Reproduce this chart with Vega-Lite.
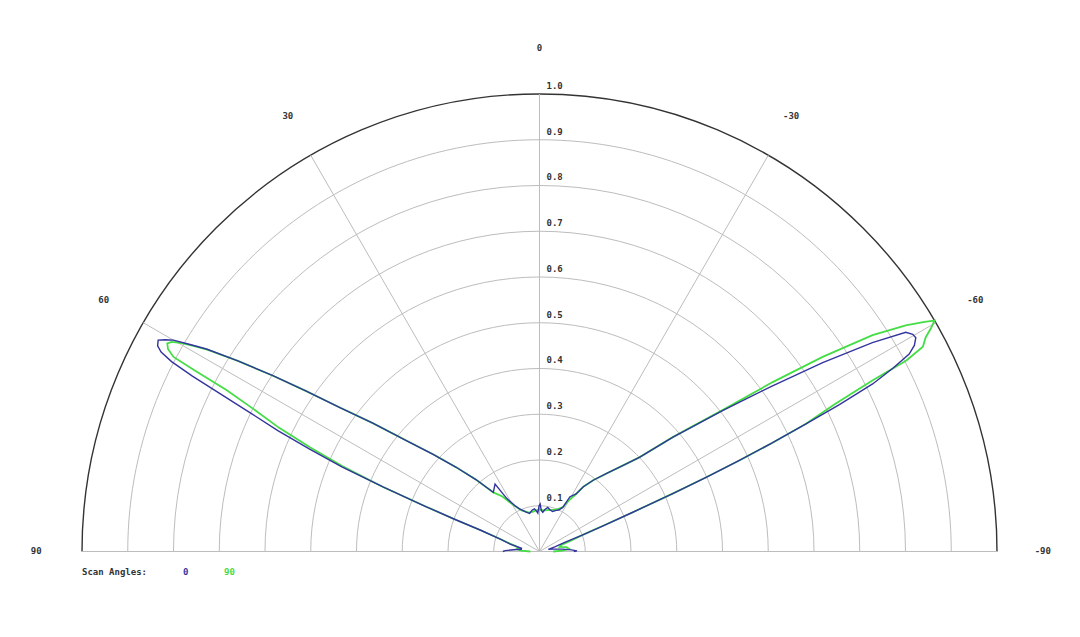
{
  "$schema": "https://vega.github.io/schema/vega-lite/v6.json",
  "width": 1080,
  "height": 637,
  "autosize": "none",
  "padding": 0,
  "background": "white",
  "config": {
    "font": "DejaVu Sans Mono",
    "view": {"stroke": null}
  },
  "datasets": {
    "rings": [
      {"r": 0.1}, {"r": 0.2}, {"r": 0.3}, {"r": 0.4}, {"r": 0.5},
      {"r": 0.6}, {"r": 0.7}, {"r": 0.8}, {"r": 0.9}, {"r": 1.0}
    ],
    "spokes": [
      {"angle": 90}, {"angle": 60}, {"angle": 30}, {"angle": 0},
      {"angle": -30}, {"angle": -60}, {"angle": -90}
    ],
    "pattern": [
      {"scan": "0", "theta": 90, "r": 0.08},
      {"scan": "0", "theta": 88.5, "r": 0.075},
      {"scan": "0", "theta": 87, "r": 0.062},
      {"scan": "0", "theta": 85, "r": 0.05},
      {"scan": "0", "theta": 83, "r": 0.04},
      {"scan": "0", "theta": 79.8, "r": 0.04},
      {"scan": "0", "theta": 75.7, "r": 0.066},
      {"scan": "0", "theta": 72.4, "r": 0.09},
      {"scan": "0", "theta": 70.1, "r": 0.138},
      {"scan": "0", "theta": 69.2, "r": 0.2},
      {"scan": "0", "theta": 68.4, "r": 0.27},
      {"scan": "0", "theta": 67.6, "r": 0.37},
      {"scan": "0", "theta": 66.8, "r": 0.47},
      {"scan": "0", "theta": 66.0, "r": 0.55},
      {"scan": "0", "theta": 65.2, "r": 0.63},
      {"scan": "0", "theta": 64.4, "r": 0.7},
      {"scan": "0", "theta": 63.7, "r": 0.78},
      {"scan": "0", "theta": 63.2, "r": 0.85},
      {"scan": "0", "theta": 62.7, "r": 0.905},
      {"scan": "0", "theta": 62.2, "r": 0.935},
      {"scan": "0", "theta": 61.7, "r": 0.948},
      {"scan": "0", "theta": 61.0, "r": 0.953},
      {"scan": "0", "theta": 60.5, "r": 0.94},
      {"scan": "0", "theta": 60.0, "r": 0.924},
      {"scan": "0", "theta": 59.4, "r": 0.89},
      {"scan": "0", "theta": 58.7, "r": 0.852},
      {"scan": "0", "theta": 57.7, "r": 0.78},
      {"scan": "0", "theta": 56.6, "r": 0.698},
      {"scan": "0", "theta": 55.5, "r": 0.62},
      {"scan": "0", "theta": 54.2, "r": 0.538},
      {"scan": "0", "theta": 52.4, "r": 0.46},
      {"scan": "0", "theta": 50.2, "r": 0.379},
      {"scan": "0", "theta": 47.6, "r": 0.315},
      {"scan": "0", "theta": 44.7, "r": 0.259},
      {"scan": "0", "theta": 41.5, "r": 0.21},
      {"scan": "0", "theta": 38.0, "r": 0.164},
      {"scan": "0", "theta": 33.4, "r": 0.1765},
      {"scan": "0", "theta": 31.7, "r": 0.1365},
      {"scan": "0", "theta": 28.5, "r": 0.115},
      {"scan": "0", "theta": 25.1, "r": 0.103},
      {"scan": "0", "theta": 22.2, "r": 0.097},
      {"scan": "0", "theta": 18.7, "r": 0.091},
      {"scan": "0", "theta": 14.6, "r": 0.086},
      {"scan": "0", "theta": 10.0, "r": 0.092},
      {"scan": "0", "theta": 6.7, "r": 0.094},
      {"scan": "0", "theta": 4.0, "r": 0.088},
      {"scan": "0", "theta": 2.5, "r": 0.084},
      {"scan": "0", "theta": 0.5, "r": 0.1},
      {"scan": "0", "theta": -0.8, "r": 0.104},
      {"scan": "0", "theta": -2.5, "r": 0.09},
      {"scan": "0", "theta": -4.8, "r": 0.086},
      {"scan": "0", "theta": -7.0, "r": 0.092},
      {"scan": "0", "theta": -10.6, "r": 0.098},
      {"scan": "0", "theta": -14.0, "r": 0.094},
      {"scan": "0", "theta": -18.0, "r": 0.092},
      {"scan": "0", "theta": -22.2, "r": 0.097},
      {"scan": "0", "theta": -25.0, "r": 0.1},
      {"scan": "0", "theta": -27.8, "r": 0.109},
      {"scan": "0", "theta": -29.1, "r": 0.137},
      {"scan": "0", "theta": -32.5, "r": 0.149},
      {"scan": "0", "theta": -34.1, "r": 0.171},
      {"scan": "0", "theta": -37.0, "r": 0.195},
      {"scan": "0", "theta": -40.7, "r": 0.225},
      {"scan": "0", "theta": -44.0, "r": 0.26},
      {"scan": "0", "theta": -46.7, "r": 0.3},
      {"scan": "0", "theta": -49.4, "r": 0.383},
      {"scan": "0", "theta": -52.4, "r": 0.505},
      {"scan": "0", "theta": -54.6, "r": 0.625},
      {"scan": "0", "theta": -56.3, "r": 0.744},
      {"scan": "0", "theta": -57.9, "r": 0.859},
      {"scan": "0", "theta": -59.1, "r": 0.933},
      {"scan": "0", "theta": -59.8, "r": 0.944},
      {"scan": "0", "theta": -60.4, "r": 0.946},
      {"scan": "0", "theta": -61.2, "r": 0.935},
      {"scan": "0", "theta": -61.9, "r": 0.916},
      {"scan": "0", "theta": -62.6, "r": 0.87},
      {"scan": "0", "theta": -63.3, "r": 0.815},
      {"scan": "0", "theta": -63.9, "r": 0.73},
      {"scan": "0", "theta": -64.4, "r": 0.646},
      {"scan": "0", "theta": -65.0, "r": 0.56},
      {"scan": "0", "theta": -65.5, "r": 0.48},
      {"scan": "0", "theta": -66.0, "r": 0.4},
      {"scan": "0", "theta": -66.5, "r": 0.32},
      {"scan": "0", "theta": -67.2, "r": 0.22},
      {"scan": "0", "theta": -68.0, "r": 0.15},
      {"scan": "0", "theta": -69.0, "r": 0.1},
      {"scan": "0", "theta": -70.0, "r": 0.06},
      {"scan": "0", "theta": -73.0, "r": 0.035},
      {"scan": "0", "theta": -76.0, "r": 0.02},
      {"scan": "0", "theta": -80.0, "r": 0.03},
      {"scan": "0", "theta": -84.0, "r": 0.05},
      {"scan": "0", "theta": -87.0, "r": 0.07},
      {"scan": "0", "theta": -89.0, "r": 0.082},
      {"scan": "0", "theta": -90.0, "r": 0.075},

      {"scan": "90", "theta": 90, "r": 0.02},
      {"scan": "90", "theta": 87, "r": 0.04},
      {"scan": "90", "theta": 84, "r": 0.05},
      {"scan": "90", "theta": 81, "r": 0.045},
      {"scan": "90", "theta": 77, "r": 0.055},
      {"scan": "90", "theta": 74, "r": 0.075},
      {"scan": "90", "theta": 72.4, "r": 0.09},
      {"scan": "90", "theta": 70.1, "r": 0.138},
      {"scan": "90", "theta": 69.2, "r": 0.2},
      {"scan": "90", "theta": 68.4, "r": 0.27},
      {"scan": "90", "theta": 67.6, "r": 0.37},
      {"scan": "90", "theta": 66.6, "r": 0.47},
      {"scan": "90", "theta": 65.6, "r": 0.55},
      {"scan": "90", "theta": 64.6, "r": 0.63},
      {"scan": "90", "theta": 63.5, "r": 0.7},
      {"scan": "90", "theta": 62.7, "r": 0.77},
      {"scan": "90", "theta": 62.3, "r": 0.85},
      {"scan": "90", "theta": 62.0, "r": 0.906},
      {"scan": "90", "theta": 61.4, "r": 0.925},
      {"scan": "90", "theta": 60.8, "r": 0.932},
      {"scan": "90", "theta": 60.3, "r": 0.925},
      {"scan": "90", "theta": 59.8, "r": 0.905},
      {"scan": "90", "theta": 59.3, "r": 0.88},
      {"scan": "90", "theta": 58.7, "r": 0.848},
      {"scan": "90", "theta": 57.7, "r": 0.78},
      {"scan": "90", "theta": 56.6, "r": 0.698},
      {"scan": "90", "theta": 55.5, "r": 0.62},
      {"scan": "90", "theta": 54.2, "r": 0.538},
      {"scan": "90", "theta": 52.4, "r": 0.46},
      {"scan": "90", "theta": 50.2, "r": 0.379},
      {"scan": "90", "theta": 47.6, "r": 0.315},
      {"scan": "90", "theta": 44.7, "r": 0.259},
      {"scan": "90", "theta": 41.5, "r": 0.21},
      {"scan": "90", "theta": 38.0, "r": 0.164},
      {"scan": "90", "theta": 34.0, "r": 0.145},
      {"scan": "90", "theta": 31.0, "r": 0.125},
      {"scan": "90", "theta": 27.0, "r": 0.108},
      {"scan": "90", "theta": 23.0, "r": 0.097},
      {"scan": "90", "theta": 19.0, "r": 0.092},
      {"scan": "90", "theta": 15.0, "r": 0.088},
      {"scan": "90", "theta": 10.0, "r": 0.088},
      {"scan": "90", "theta": 5.0, "r": 0.09},
      {"scan": "90", "theta": 0.0, "r": 0.092},
      {"scan": "90", "theta": -5.0, "r": 0.09},
      {"scan": "90", "theta": -10.0, "r": 0.092},
      {"scan": "90", "theta": -15.0, "r": 0.094},
      {"scan": "90", "theta": -20.0, "r": 0.097},
      {"scan": "90", "theta": -24.0, "r": 0.102},
      {"scan": "90", "theta": -27.8, "r": 0.11},
      {"scan": "90", "theta": -30.0, "r": 0.13},
      {"scan": "90", "theta": -32.5, "r": 0.149},
      {"scan": "90", "theta": -34.1, "r": 0.171},
      {"scan": "90", "theta": -37.0, "r": 0.195},
      {"scan": "90", "theta": -40.7, "r": 0.225},
      {"scan": "90", "theta": -44.0, "r": 0.26},
      {"scan": "90", "theta": -46.7, "r": 0.3},
      {"scan": "90", "theta": -49.4, "r": 0.385},
      {"scan": "90", "theta": -52.4, "r": 0.51},
      {"scan": "90", "theta": -54.0, "r": 0.63},
      {"scan": "90", "theta": -55.5, "r": 0.751},
      {"scan": "90", "theta": -57.0, "r": 0.868},
      {"scan": "90", "theta": -58.3, "r": 0.941},
      {"scan": "90", "theta": -59.2, "r": 0.98},
      {"scan": "90", "theta": -59.7, "r": 1.0},
      {"scan": "90", "theta": -60.3, "r": 0.985},
      {"scan": "90", "theta": -61.0, "r": 0.965},
      {"scan": "90", "theta": -61.9, "r": 0.95},
      {"scan": "90", "theta": -62.5, "r": 0.904},
      {"scan": "90", "theta": -62.8, "r": 0.819},
      {"scan": "90", "theta": -63.5, "r": 0.72},
      {"scan": "90", "theta": -64.4, "r": 0.646},
      {"scan": "90", "theta": -65.0, "r": 0.56},
      {"scan": "90", "theta": -65.5, "r": 0.48},
      {"scan": "90", "theta": -66.0, "r": 0.4},
      {"scan": "90", "theta": -66.5, "r": 0.32},
      {"scan": "90", "theta": -67.2, "r": 0.22},
      {"scan": "90", "theta": -68.0, "r": 0.15},
      {"scan": "90", "theta": -69.0, "r": 0.1},
      {"scan": "90", "theta": -71.0, "r": 0.07},
      {"scan": "90", "theta": -73.0, "r": 0.05},
      {"scan": "90", "theta": -77.0, "r": 0.045},
      {"scan": "90", "theta": -81.0, "r": 0.06},
      {"scan": "90", "theta": -85.0, "r": 0.065},
      {"scan": "90", "theta": -88.0, "r": 0.05},
      {"scan": "90", "theta": -90.0, "r": 0.03}
    ]
  },
  "layer": [
    {
      "data": {"name": "rings"},
      "transform": [
        {"calculate": "0", "as": "cx"},
        {"calculate": "0", "as": "cy"}
      ],
      "mark": {
        "type": "point",
        "shape": "M-1,0A1,1,0,0,1,1,0",
        "filled": false,
        "opacity": 1
      },
      "encoding": {
        "x": {
          "field": "cx",
          "type": "quantitative",
          "axis": null,
          "scale": {"domain": [-1.17923, 1.18142], "nice": false, "zero": false}
        },
        "y": {
          "field": "cy",
          "type": "quantitative",
          "axis": null,
          "scale": {"domain": [-0.18689, 1.20546], "nice": false, "zero": false}
        },
        "size": {
          "field": "r",
          "type": "quantitative",
          "legend": null,
          "scale": {"type": "pow", "exponent": 2, "domain": [0, 1], "range": [0, 837225]}
        },
        "stroke": {
          "condition": {"test": "datum.r >= 1", "value": "#333333"},
          "value": "#bdbdbd"
        },
        "strokeWidth": {
          "condition": {"test": "datum.r >= 1", "value": 1.4},
          "value": 1
        }
      }
    },
    {
      "data": {"name": "spokes"},
      "transform": [
        {"calculate": "0", "as": "cx"},
        {"calculate": "0", "as": "cy"},
        {"calculate": "-sin(datum.angle * PI / 180)", "as": "ex"},
        {"calculate": "cos(datum.angle * PI / 180)", "as": "ey"}
      ],
      "mark": {"type": "rule", "color": "#bdbdbd", "strokeWidth": 1},
      "encoding": {
        "x": {"field": "cx", "type": "quantitative", "axis": null},
        "y": {"field": "cy", "type": "quantitative", "axis": null},
        "x2": {"field": "ex"},
        "y2": {"field": "ey"}
      }
    },
    {
      "data": {"name": "spokes"},
      "transform": [
        {"calculate": "-1.1 * sin(datum.angle * PI / 180)", "as": "lx"},
        {"calculate": "1.1 * cos(datum.angle * PI / 180)", "as": "ly"},
        {"calculate": "'' + datum.angle", "as": "label"}
      ],
      "mark": {
        "type": "text",
        "fontSize": 9,
        "fontWeight": "bold",
        "color": "#333333",
        "align": "center",
        "baseline": "middle"
      },
      "encoding": {
        "x": {"field": "lx", "type": "quantitative", "axis": null},
        "y": {"field": "ly", "type": "quantitative", "axis": null},
        "text": {"field": "label", "type": "nominal"}
      }
    },
    {
      "data": {"name": "rings"},
      "transform": [{"calculate": "0", "as": "cx"}],
      "mark": {
        "type": "text",
        "fontSize": 9,
        "fontWeight": "bold",
        "color": "#333333",
        "align": "left",
        "baseline": "alphabetic",
        "dx": 7,
        "dy": -5
      },
      "encoding": {
        "x": {"field": "cx", "type": "quantitative", "axis": null},
        "y": {"field": "r", "type": "quantitative", "axis": null},
        "text": {"field": "r", "type": "quantitative", "format": ".1f"}
      }
    },
    {
      "data": {"name": "pattern"},
      "transform": [
        {"filter": "datum.scan == '90'"},
        {"calculate": "-datum.r * sin(datum.theta * PI / 180)", "as": "px"},
        {"calculate": "datum.r * cos(datum.theta * PI / 180)", "as": "py"}
      ],
      "mark": {"type": "line", "strokeWidth": 1.8},
      "encoding": {
        "x": {"field": "px", "type": "quantitative", "axis": null},
        "y": {"field": "py", "type": "quantitative", "axis": null},
        "order": {"field": "theta", "type": "quantitative", "sort": "descending"},
        "color": {"field": "scan", "type": "nominal"}
      }
    },
    {
      "data": {"name": "pattern"},
      "transform": [
        {"filter": "datum.scan == '0'"},
        {"calculate": "-datum.r * sin(datum.theta * PI / 180)", "as": "px"},
        {"calculate": "datum.r * cos(datum.theta * PI / 180)", "as": "py"}
      ],
      "mark": {"type": "line", "strokeWidth": 1.4},
      "encoding": {
        "x": {"field": "px", "type": "quantitative", "axis": null},
        "y": {"field": "py", "type": "quantitative", "axis": null},
        "order": {"field": "theta", "type": "quantitative", "sort": "descending"},
        "color": {
          "field": "scan",
          "type": "nominal",
          "scale": {"domain": ["0", "90"], "range": ["#34349e", "#45dd45"]},
          "legend": {
            "title": "Scan Angles:",
            "orient": "none",
            "legendX": 82,
            "legendY": 567,
            "direction": "horizontal",
            "titleOrient": "left",
            "titleFont": "DejaVu Sans Mono",
            "titleFontSize": 9,
            "titleFontWeight": "bold",
            "titleColor": "#333333",
            "titlePadding": 22,
            "labelFont": "DejaVu Sans Mono",
            "labelFontSize": 9,
            "labelFontWeight": "bold",
            "labelColor": {"expr": "datum.value == '0' ? '#34349e' : '#45dd45'"},
            "labelOffset": 4,
            "columnPadding": 22,
            "symbolSize": 60,
            "symbolOpacity": 0,
            "symbolStrokeWidth": 0
          }
        }
      }
    }
  ]
}
